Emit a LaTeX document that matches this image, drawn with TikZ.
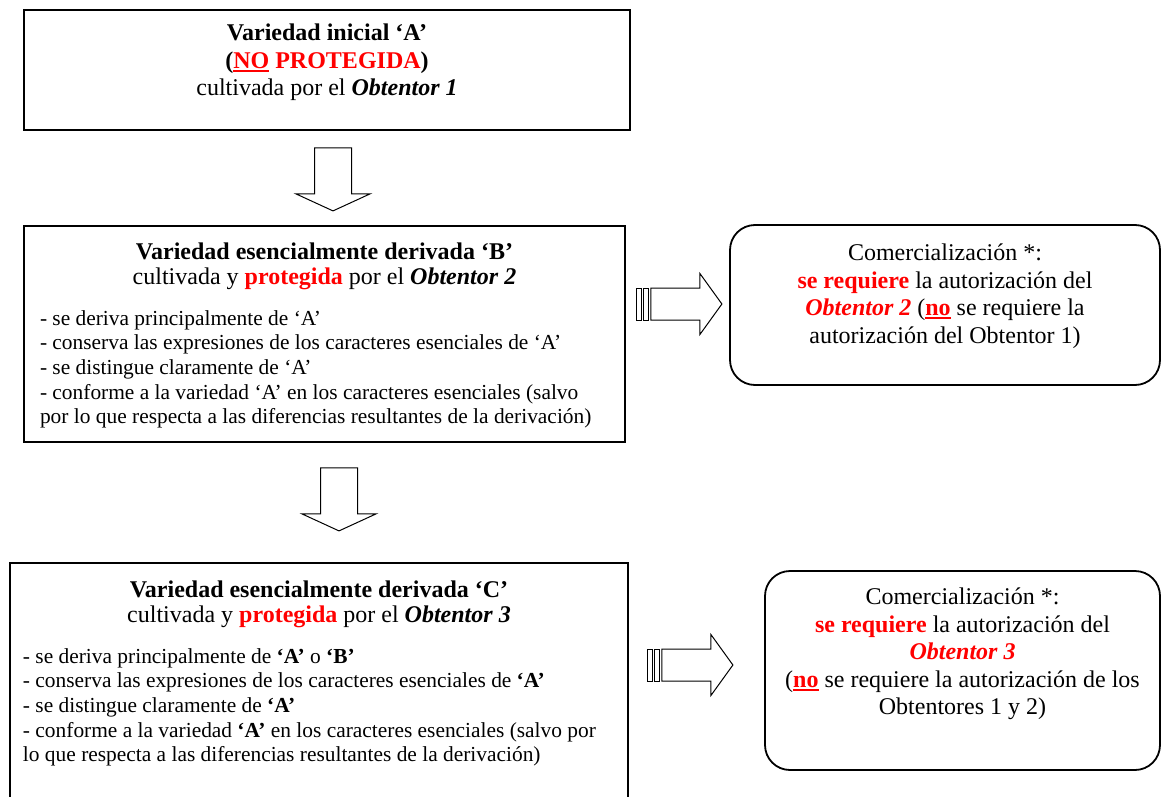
\documentclass[tikz,border=0pt]{standalone}
\usepackage{fontspec}
\setmainfont{Liberation Serif}
\usepackage{xcolor}
\usetikzlibrary{calc}
\definecolor{ured}{RGB}{255,0,0}
\newcommand\redline[1]{\setbox0\hbox{#1}\rlap{\rule[-3.5pt]{\wd0}{1.8pt}}\box0\relax}

\begin{document}
\begin{tikzpicture}[x=1pt,y=-1pt,
  varbox/.style={draw, line width=1.8pt, inner sep=0pt},
  combox/.style={draw, line width=1.8pt, inner sep=0pt, rounded corners=25pt},
  blockline/.style={line width=1pt, fill=white},
  downblock/.pic={
    \draw[blockline] (-18.5,0) -- (18.5,0) -- (18.5,46) -- (37,46) -- (0,63) -- (-37,46) -- (-18.5,46) -- cycle;
  },
  rightblock/.pic={
    \draw[blockline] (0,-16) rectangle (5,16);
    \draw[blockline] (6.5,-16) rectangle (11.5,16);
    \draw[blockline] (14,-16) -- (63,-16) -- (63,-30.5) -- (85,0) -- (63,30.5) -- (63,16) -- (14,16) -- cycle;
  }]
\useasboundingbox (0,0) rectangle (1162,797);
\fill[white] (0,0) rectangle (1162,797);
\clip (0,0) rectangle (1162,797);
%
\node[varbox] (varA) at (327,70) {\parbox[c][120pt][t]{606pt}{\vspace*{14pt}\centering\fontsize{24}{27.5}\selectfont
\textbf{Variedad inicial ‘A’}\\
\textbf{(\textcolor{ured}{\redline{NO} PROTEGIDA})}\\
cultivada por el \textbf{\textit{Obtentor 1}}}};
%
\node[varbox] (varB) at (324.5,334) {\parbox[c][216pt][t]{601pt}{\vspace*{17pt}\centering\fontsize{24}{25}\selectfont
\textbf{Variedad esencialmente derivada ‘B’}\\
cultivada y \textcolor{ured}{\textbf{protegida}} por el \textbf{\textit{Obtentor 2}}\par
\vspace{16pt}\raggedright\leftskip=16pt\fontsize{21.4}{24.6}\selectfont
- se deriva principalmente de ‘A’\\
- conserva las expresiones de los caracteres esenciales de ‘A’\\
- se distingue claramente de ‘A’\\
- conforme a la variedad ‘A’ en los caracteres esenciales (salvo\\
por lo que respecta a las diferencias resultantes de la derivación)}};
%
\node[varbox] (varC) at (319,693) {\parbox[c][260pt][t]{618pt}{\vspace*{18pt}\centering\fontsize{24}{25}\selectfont
\textbf{Variedad esencialmente derivada ‘C’}\\
cultivada y \textcolor{ured}{\textbf{protegida}} por el \textbf{\textit{Obtentor 3}}\par
\vspace{16pt}\raggedright\leftskip=13pt\fontsize{21.4}{24.6}\selectfont
- se deriva principalmente de \textbf{‘A’} o \textbf{‘B’}\\
- conserva las expresiones de los caracteres esenciales de \textbf{‘A’}\\
- se distingue claramente de \textbf{‘A’}\\
- conforme a la variedad \textbf{‘A’} en los caracteres esenciales (salvo por\\
lo que respecta a las diferencias resultantes de la derivación)}};
%
\node[combox] (comB) at (945,305) {\parbox[c][160pt][t]{430pt}{\vspace*{19pt}\centering\fontsize{24}{27.5}\selectfont
Comercialización *:\\
\textcolor{ured}{\textbf{se requiere}} la autorización del\\
\textcolor{ured}{\textbf{\textit{Obtentor 2}}} (\textcolor{ured}{\redline{\textbf{no}}} se requiere la\\
autorización del Obtentor 1)}};
%
\node[combox] (comC) at (962.5,670.5) {\parbox[c][199pt][t]{395pt}{\vspace*{17pt}\centering\fontsize{24}{27.5}\selectfont
Comercialización *:\\
\textcolor{ured}{\textbf{se requiere}} la autorización del\\
\textcolor{ured}{\textbf{\textit{Obtentor 3}}}\\
(\textcolor{ured}{\redline{\textbf{no}}} se requiere la autorización de los\\
Obtentores 1 y 2)}};
%
\pic at ($(varA.south)+(6,17)$) {downblock};
\pic at ($(varB.south)+(14.5,25)$) {downblock};
\pic at ($(varB.east)+(11,-30)$) {rightblock};
\pic at ($(varC.east)+(19,-28)$) {rightblock};
\end{tikzpicture}
\end{document}
